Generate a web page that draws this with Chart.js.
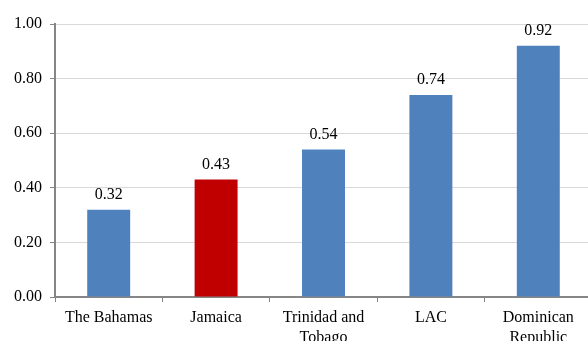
<!DOCTYPE html>
<html>
<head>
<meta charset="utf-8">
<script src="https://cdn.jsdelivr.net/npm/chart.js@4.4.1/dist/chart.umd.min.js"></script>
<style>
  html, body { margin: 0; padding: 0; background: #fff; overflow: hidden; }
  #wrap { width: 592px; height: 341px; }
</style>
</head>
<body>
<div id="wrap"><canvas id="c" width="592" height="341"></canvas></div>
<script>
// Index values by country / region
const categories = [["The Bahamas"], ["Jamaica"], ["Trinidad and", "Tobago"], ["LAC"], ["Dominican", "Republic"]];
const values = [0.32, 0.43, 0.54, 0.74, 0.92];
const barColors = ["#4F81BD", "#C00000", "#4F81BD", "#4F81BD", "#4F81BD"];
const yTicks = [0, 0.2, 0.4, 0.6, 0.8, 1.0];

const FONT = "'Liberation Serif', 'Times New Roman', serif";

// Writes each bar's value just above it
const valueLabels = {
  id: 'valueLabels',
  afterDatasetsDraw(chart) {
    const ctx = chart.ctx;
    const meta = chart.getDatasetMeta(0);
    ctx.save();
    ctx.font = "16px " + FONT;
    ctx.fillStyle = "#000";
    ctx.textAlign = "center";
    ctx.textBaseline = "bottom";
    meta.data.forEach((bar, i) => {
      ctx.fillText(values[i].toFixed(2), bar.x, bar.y - 7);
    });
    ctx.restore();
  }
};

new Chart(document.getElementById('c'), {
  type: 'bar',
  data: {
    labels: categories,
    datasets: [{
      data: values,
      backgroundColor: barColors,
      borderWidth: 0,
      categoryPercentage: 1,
      barPercentage: 0.4
    }]
  },
  options: {
    responsive: false,
    animation: false,
    layout: { padding: { top: 24, right: 0, left: 0, bottom: 0 } },
    plugins: { legend: { display: false }, tooltip: { enabled: false } },
    scales: {
      x: {
        offset: true,
        grid: { display: true, drawOnChartArea: false, drawTicks: true, tickLength: 5, offset: true, tickColor: "#868686" },
        border: { color: "#868686", width: 2 },
        ticks: { color: "#000", font: { family: FONT, size: 16, lineHeight: 1.25 }, padding: 6, maxRotation: 0, autoSkip: false },
        afterFit(scale) { scale.height = 44; }
      },
      y: {
        min: 0, max: 1,
        afterBuildTicks(scale) { scale.ticks = yTicks.map(v => ({ value: v })); },
        grid: { color: "#D9D9D9", lineWidth: 1, tickLength: 5, tickColor: "#868686" },
        border: { color: "#868686", width: 2 },
        ticks: { color: "#000", font: { family: FONT, size: 16 }, padding: 8, callback: v => Number(v).toFixed(2) },
        afterFit(scale) { scale.width = 55; }
      }
    }
  },
  plugins: [valueLabels]
});
</script>
</body>
</html>
